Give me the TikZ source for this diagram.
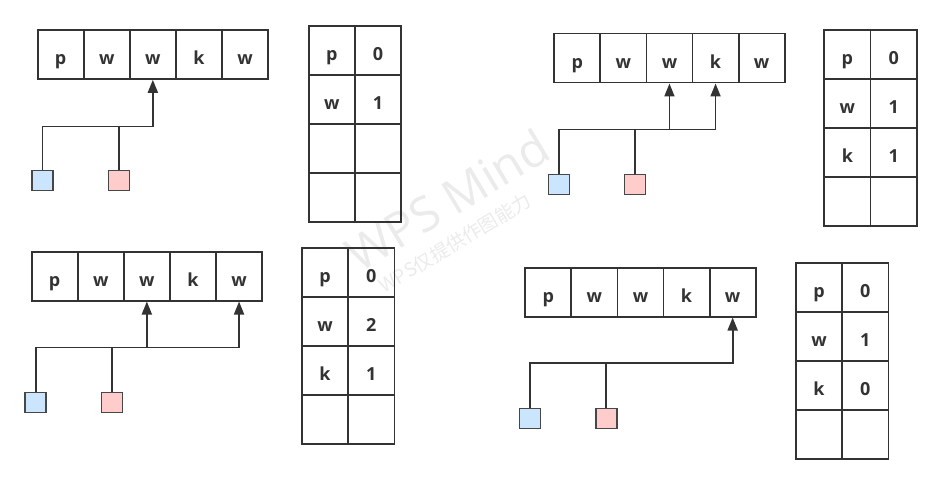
\documentclass[tikz,border=0pt]{standalone}
\usepackage{fontspec}
\setmainfont{Open Sans}
\newfontfamily\cjkfont{Noto Sans CJK SC}
\usetikzlibrary{arrows.meta}
\definecolor{ln}{HTML}{333333}
\definecolor{bluef}{HTML}{CCE5FF}
\definecolor{pinkf}{HTML}{FFCCCC}
\definecolor{wm}{HTML}{EBEBEB}
\newcommand\mkarr[3]{\foreach \t [count=\i from 0] in {p,w,w,k,w} {\node[cell] (#1\i) at ({#2+46.1*\i},#3) {\t};}}
\newcommand\trow[5]{\node[cell,minimum width=46.3pt] (#1a) at (#2,#3) {#4};\node[cell,minimum width=46.3pt] (#1b) at ({#2+46.3},#3) {#5};}
\begin{document}
\begin{tikzpicture}[x=1pt,y=-1pt,
  cell/.style={draw=ln, line width=1.8pt, minimum width=46.1pt, minimum height=49pt,
    inner sep=0pt, text height=20pt, text depth=0pt,
    font=\fontsize{18}{18}\selectfont\bfseries, text=ln, anchor=north west},
  bsq/.style={draw=ln!90, fill=bluef, line width=1.5pt, minimum width=21pt, minimum height=20pt, inner sep=0pt},
  psq/.style={draw=ln!90, fill=pinkf, line width=1.5pt, minimum width=21pt, minimum height=20pt, inner sep=0pt},
  wire/.style={draw=ln, line width=1.8pt},
  arr/.style={wire, -{Triangle[length=13pt,width=10pt]}}]
\useasboundingbox (0,0) rectangle (941,484);
% watermark
\node[rotate=31, text=wm, font=\fontsize{48}{48}\selectfont] (wmA) at (447,200) {WPS Mind};
\node[rotate=31, text=wm, font=\cjkfont\fontsize{19}{19}\selectfont] (wmB) at (455,243) {WPS仅提供作图能力};
% ---------- panel 1
\mkarr{A}{36.7}{29}
\trow{TA1}{307.7}{25}{p}{0}
\trow{TA2}{307.7}{74}{w}{1}
\trow{TA3}{307.7}{123}{}{}
\trow{TA4}{307.7}{172}{}{}
\node[bsq] (Ab) at (42.5,180.7) {};
\node[psq] (Ap) at (118.8,180.7) {};
\path (A2.south) ++(0,46.6) coordinate (Aj);
\draw[arr] (Ab.north) |- (Aj) -- (A2.south);
\draw[wire] (Ap.north) -- (Ap.north |- Aj);
% ---------- panel 2
\mkarr{B}{553.3}{32.7}
\trow{TB1}{823.3}{29}{p}{0}
\trow{TB2}{823.3}{78}{w}{1}
\trow{TB3}{823.3}{127}{k}{1}
\trow{TB4}{823.3}{176}{}{}
\node[bsq] (Bb) at (558.8,184.3) {};
\node[psq] (Bp) at (635,184.3) {};
\path (B2.south) ++(0,46) coordinate (Bj);
\path (B3.south) ++(0,46) coordinate (Bk);
\draw[arr] (Bb.north) |- (Bj) -- (B2.south);
\draw[arr] (Bj) -- (Bk) -- (B3.south);
\draw[wire] (Bp.north) -- (Bp.north |- Bj);
% ---------- panel 3
\mkarr{C}{30.7}{250.7}
\trow{TC1}{301}{246.7}{p}{0}
\trow{TC2}{301}{295.7}{w}{2}
\trow{TC3}{301}{344.7}{k}{1}
\trow{TC4}{301}{393.7}{}{}
\node[bsq] (Cb) at (35.7,402.3) {};
\node[psq] (Cp) at (112.2,402.3) {};
\path (C2.south) ++(0,46) coordinate (Cj);
\path (C4.south) ++(0,46) coordinate (Ck);
\draw[arr] (Cb.north) |- (Cj) -- (C2.south);
\draw[arr] (Cj) -- (Ck) -- (C4.south);
\draw[wire] (Cp.north) -- (Cp.north |- Cj);
% ---------- panel 4
\mkarr{D}{524.3}{266.7}
\trow{TD1}{795}{262.3}{p}{0}
\trow{TD2}{795}{311.3}{w}{1}
\trow{TD3}{795}{360.3}{k}{0}
\trow{TD4}{795}{409.3}{}{}
\node[bsq] (Db) at (530,418.3) {};
\node[psq] (Dp) at (606.3,418.3) {};
\path (D4.south) ++(0,45.7) coordinate (Dj);
\draw[arr] (Db.north) |- (Dj) -- (D4.south);
\draw[wire] (Dp.north) -- (Dp.north |- Dj);
\end{tikzpicture}
\end{document}
